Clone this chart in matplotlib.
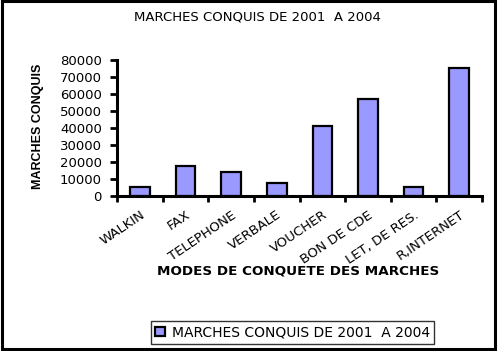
import numpy as np
import matplotlib.pyplot as plt
from matplotlib.patches import Rectangle

# data
categories = ["WALKIN", "FAX", "TELEPHONE", "VERBALE", "VOUCHER",
              "BON DE CDE", "LET, DE RES.", "R,INTERNET"]
marches = [5500, 17500, 14000, 7800, 41000, 57000, 5500, 75000]
yticks = [0, 10000, 20000, 30000, 40000, 50000, 60000, 70000, 80000]

plt.rcParams['font.family'] = ['DejaVu Sans']

fig = plt.figure(figsize=(4.98, 3.51), dpi=100)
ax = fig.add_axes([0.235, 0.4416, 0.733, 0.3875])

x = np.arange(len(categories))
ax.bar(x, marches, width=0.43, color='#9999FF', edgecolor='black',
       linewidth=1.6, label="MARCHES CONQUIS DE 2001  A 2004")

ax.set_xlim(-0.5, len(categories) - 0.5)
ax.set_ylim(0, 80000)
ax.set_yticks(yticks)
ax.set_yticklabels([str(v) for v in yticks], fontsize=9.5)

# labels at centres, tick marks between categories
ax.set_xticks(x)
ax.set_xticklabels(categories, rotation=34, ha='right', rotation_mode='anchor',
                   fontsize=9.5)
ax.tick_params(axis='x', which='major', length=0, pad=9)
ax.set_xticks(np.arange(-0.5, len(categories)), minor=True)
ax.tick_params(axis='x', which='minor', length=4, width=2)
ax.tick_params(axis='y', length=5, width=2, pad=6)

for s in ['top', 'right']:
    ax.spines[s].set_visible(False)
for s in ['left', 'bottom']:
    ax.spines[s].set_linewidth(2.2)

fig.text(0.516, 0.952, "MARCHES CONQUIS DE 2001  A 2004", ha='center', va='center',
         fontsize=9.5)
fig.text(0.599, 0.228, "MODES DE CONQUETE DES MARCHES", ha='center', va='center',
         fontsize=9.7, fontweight='bold')
fig.text(0.076, 0.64, "MARCHES CONQUIS", rotation=90, ha='center', va='center',
         fontsize=9, fontweight='bold', family=['Liberation Sans'])

leg = fig.legend(loc='center', bbox_to_anchor=(0.587, 0.053), fontsize=10,
                 frameon=True, fancybox=False, handlelength=0.7, handleheight=0.7,
                 handletextpad=0.5, borderpad=0.3)
leg.get_frame().set_edgecolor('black')
leg.get_frame().set_linewidth(1.0)

# figure border
fig.patches.append(Rectangle((0.004, 0.006), 0.99, 0.99, transform=fig.transFigure,
                             fill=False, edgecolor='black', linewidth=2.2))

fig.savefig('out.png', dpi=100)
